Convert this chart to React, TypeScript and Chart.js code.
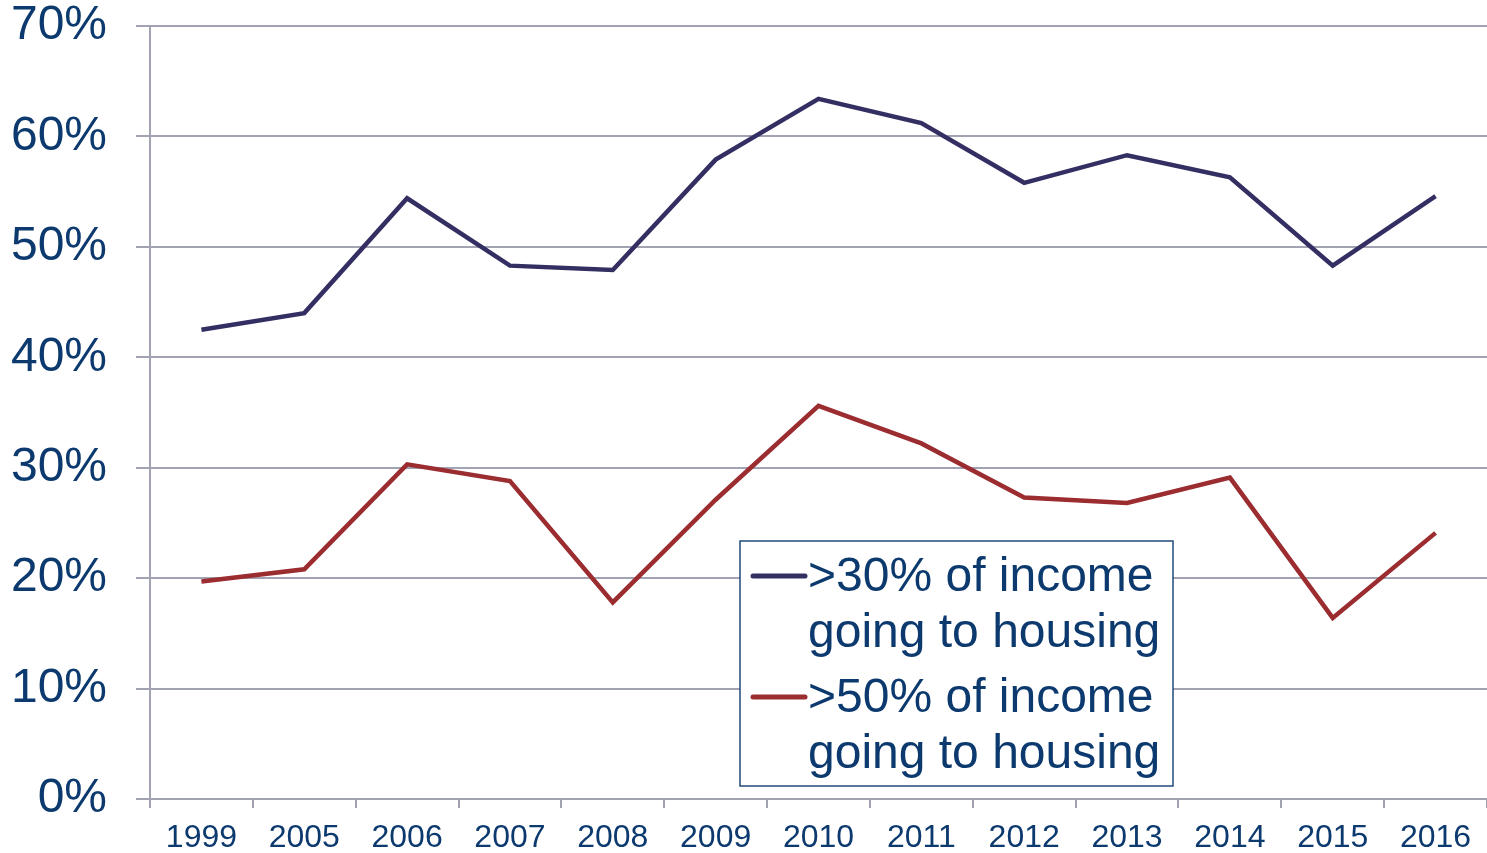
import React, { useEffect, useRef } from "react";
import { Chart, registerables } from "chart.js";

Chart.register(...registerables);

const categories = ["1999", "2005", "2006", "2007", "2008", "2009", "2010", "2011", "2012", "2013", "2014", "2015", "2016"];
const over30 = [42.5, 44.0, 54.4, 48.3, 47.9, 57.9, 63.4, 61.2, 55.8, 58.3, 56.3, 48.3, 54.6];
const over50 = [19.7, 20.8, 30.3, 28.8, 17.8, 27.1, 35.6, 32.2, 27.3, 26.8, 29.1, 16.4, 24.1];
const seriesLabels = [
  [">30% of income", "going to housing"],
  [">50% of income", "going to housing"],
];
const yTicks = [0, 10, 20, 30, 40, 50, 60, 70];

const TEXT = "#0d3a6e";
const GRID = "#a2a3b2";
const BLUE = "#342f63";
const RED = "#9b2c30";
const FONT = "'Liberation Sans', Arial, sans-serif";

const legendPlugin = {
  id: "boxLegend",
  afterDraw(chart: any) {
    const ctx = chart.ctx;
    const x0 = 740, y0 = 541, w = 433, h = 245;
    ctx.save();
    ctx.fillStyle = "#ffffff";
    ctx.fillRect(x0, y0, w, h);
    ctx.strokeStyle = "#1f4a7c";
    ctx.lineWidth = 1.5;
    ctx.strokeRect(x0, y0, w, h);
    ctx.font = `48px ${FONT}`;
    ctx.textBaseline = "middle";
    ctx.textAlign = "left";
    const itemTops = [576, 697];
    chart.data.datasets.forEach((ds: any, i: number) => {
      const cy = itemTops[i];
      ctx.strokeStyle = ds.borderColor;
      ctx.lineWidth = 5;
      ctx.lineCap = "round";
      ctx.beginPath();
      ctx.moveTo(753, cy);
      ctx.lineTo(805, cy);
      ctx.stroke();
      ctx.fillStyle = TEXT;
      const lines: string[] = ds.label;
      lines.forEach((ln, j) => {
        ctx.fillText(ln, 808, cy + 2 + j * 56);
      });
    });
    ctx.restore();
  },
};

export default function App() {
  const ref = useRef<HTMLCanvasElement | null>(null);
  useEffect(() => {
    if (!ref.current) return;
    const chart = new Chart(ref.current, {
      type: "line",
      data: {
        labels: categories,
        datasets: [
          { label: seriesLabels[0] as any, data: over30, borderColor: BLUE, backgroundColor: BLUE, borderWidth: 4.5, pointRadius: 0, tension: 0 },
          { label: seriesLabels[1] as any, data: over50, borderColor: RED, backgroundColor: RED, borderWidth: 4.5, pointRadius: 0, tension: 0 },
        ],
      },
      options: {
        animation: false,
        responsive: true,
        maintainAspectRatio: false,
        layout: { padding: { top: 26, right: 0, left: 0, bottom: 0 } },
        plugins: { legend: { display: false }, tooltip: { enabled: false } },
        scales: {
          x: {
            offset: true,
            grid: { offset: true, drawOnChartArea: false, drawTicks: true, tickLength: 9, color: GRID, lineWidth: 2 },
            border: { color: GRID, width: 2 },
            ticks: { color: TEXT, font: { family: FONT, size: 32 }, padding: 11, maxRotation: 0, autoSkip: false },
            afterFit: (s: any) => { s.height = 54; s.paddingLeft = 0; s.paddingRight = 0; },
          },
          y: {
            min: 0,
            max: 70,
            afterBuildTicks: (s: any) => { s.ticks = yTicks.map((v) => ({ value: v })); },
            grid: { color: GRID, lineWidth: 2, tickLength: 14 },
            border: { color: GRID, width: 2 },
            ticks: { color: TEXT, font: { family: FONT, size: 48 }, padding: 29, callback: (v: any) => v + "%" },
            afterFit: (s: any) => { s.width = 150; s.paddingTop = 0; s.paddingBottom = 0; },
          },
        },
      },
      plugins: [legendPlugin],
    });
    return () => chart.destroy();
  }, []);
  return (
    <div style={{ position: "fixed", left: 0, top: 0, width: 1487, height: 853, background: "#fff" }}>
      <canvas ref={ref} />
    </div>
  );
}
